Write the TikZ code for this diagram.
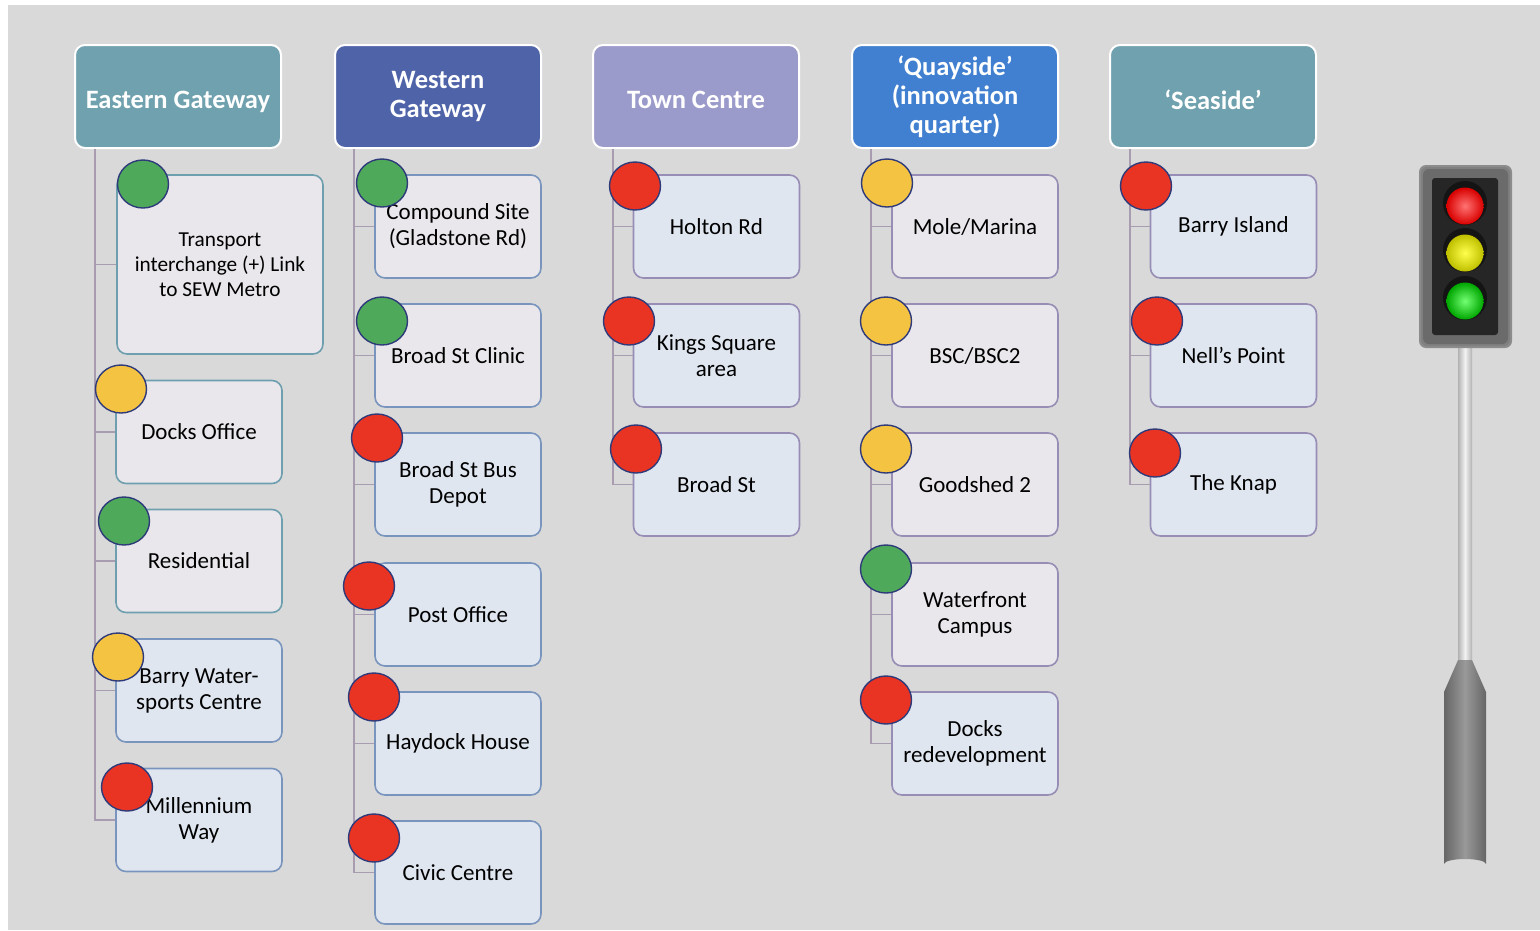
\documentclass[tikz,border=0pt]{standalone}
\usepackage{fontspec}
\usetikzlibrary{shapes.geometric,calc}
\newfontfamily\calfont{Carlito}
\newcommand\bxfont{\calfont\fontsize{23}{26}\selectfont}
\newcommand\smfont{\calfont\fontsize{21.3}{25}\selectfont}
\newcommand\hdfont{\calfont\bfseries\fontsize{26.5}{29}\selectfont}
\newcommand\lowered[1]{\raisebox{-3pt}[\height][0pt]{#1}}

\definecolor{bgray}{HTML}{D9D9D9}
\definecolor{teal}{HTML}{6FA1AE}
\definecolor{wblue}{HTML}{4F63A8}
\definecolor{lav}{HTML}{9B9BCB}
\definecolor{qblue}{HTML}{4180D0}
\definecolor{treeline}{HTML}{A79CB0}
\definecolor{eline}{HTML}{6E9FAF}
\definecolor{wline}{HTML}{7A95BD}
\definecolor{pline}{HTML}{978DB5}
\definecolor{gfill}{HTML}{E9E7EB}
\definecolor{bfill}{HTML}{DFE6F0}
\definecolor{dgreen}{HTML}{4EAA5A}
\definecolor{dyellow}{HTML}{F5C342}
\definecolor{dred}{HTML}{E93323}
\definecolor{dotline}{HTML}{2E3A7A}

\tikzset{
  header/.style={draw=white, line width=2pt, rounded corners=10pt,
    minimum width=206pt, minimum height=103pt, align=center,
    text=white, font=\hdfont, inner sep=2pt},
  box/.style={line width=1.6pt, rounded corners=10pt,
    minimum width=166pt, minimum height=103pt, align=center,
    text=black, font=\bxfont, inner sep=2pt},
  tree/.style={draw=treeline, line width=1.8pt},
  dot/.style={ellipse, draw=dotline, line width=1.4pt,
    minimum width=51pt, minimum height=48pt, inner sep=0pt},
}

\begin{document}
\begin{tikzpicture}[x=1pt,y=-1pt]
\useasboundingbox (0,0) rectangle (1540,930);
\fill[white] (0,0) rectangle (1540,930);
\fill[bgray] (8,5) rectangle (1540,930);

% column headers
\node[header, fill=teal]  (eh) at (178,96.5) {\lowered{Eastern Gateway}};
\node[header, fill=wblue] (wh) at (438,96.5) {Western\\Gateway};
\node[header, fill=lav]   (th) at (696,96.5) {\lowered{Town Centre}};
\node[header, fill=qblue] (qh) at (955,96.5) {‘Quayside’\\(innovation\\quarter)};
\node[header, fill=teal]  (sh) at (1213,96.5) {\lowered{‘Seaside’}};

% trunk start points of each column
\coordinate (et) at ($(eh.south west)+(21,0)$);
\coordinate (wt) at ($(wh.south west)+(20,0)$);
\coordinate (tt) at ($(th.south west)+(21,0)$);
\coordinate (qt) at ($(qh.south west)+(20,0)$);
\coordinate (st) at ($(sh.south west)+(21,0)$);

% Eastern Gateway
\node[box, draw=eline, fill=gfill, minimum width=206pt, minimum height=179pt, font=\smfont] (e1) at (220,264.5) {Transport\\interchange (+) Link\\to SEW Metro};
\node[box, draw=eline, fill=gfill] (e2) at (199,432) {Docks Office};
\node[box, draw=eline, fill=gfill] (e3) at (199,561) {Residential};
\node[box, draw=wline, fill=bfill] (e4) at (199,690.5) {Barry Water-\\sports Centre};
\node[box, draw=wline, fill=bfill] (e5) at (199,820) {Millennium\\Way};

% Western Gateway
\node[box, draw=wline, fill=gfill] (w1) at (458,226.5) {Compound Site\\(Gladstone Rd)};
\node[box, draw=wline, fill=gfill] (w2) at (458,355.5) {Broad St Clinic};
\node[box, draw=wline, fill=bfill] (w3) at (458,484.5) {Broad St Bus\\Depot};
\node[box, draw=wline, fill=bfill] (w4) at (458,614.5) {Post Office};
\node[box, draw=wline, fill=bfill] (w5) at (458,743.5) {Haydock House};
\node[box, draw=wline, fill=bfill] (w6) at (458,872.5) {Civic Centre};

% Town Centre
\node[box, draw=pline, fill=bfill] (t1) at (716.5,226.5) {Holton Rd};
\node[box, draw=pline, fill=bfill] (t2) at (716.5,355.5) {Kings Square\\area};
\node[box, draw=pline, fill=bfill] (t3) at (716.5,484.5) {Broad St};

% Quayside
\node[box, draw=pline, fill=gfill] (q1) at (975,226.5) {Mole/Marina};
\node[box, draw=pline, fill=gfill] (q2) at (975,355.5) {BSC/BSC2};
\node[box, draw=pline, fill=gfill] (q3) at (975,484.5) {Goodshed 2};
\node[box, draw=pline, fill=gfill] (q4) at (975,614.5) {Waterfront\\Campus};
\node[box, draw=pline, fill=bfill] (q5) at (975,743.5) {Docks\\redevelopment};

% Seaside
\node[box, draw=pline, fill=bfill] (s1) at (1233.5,226.5) {Barry Island};
\node[box, draw=pline, fill=bfill] (s2) at (1233.5,355.5) {Nell’s Point};
\node[box, draw=pline, fill=bfill] (s3) at (1233.5,484.5) {The Knap};

% tree connectors
\foreach \t/\b in {et/e1,et/e2,et/e3,et/e4,et/e5,
                   wt/w1,wt/w2,wt/w3,wt/w4,wt/w5,wt/w6,
                   tt/t1,tt/t2,tt/t3,
                   qt/q1,qt/q2,qt/q3,qt/q4,qt/q5,
                   st/s1,st/s2,st/s3}
  \draw[tree] (\t) |- (\b.west);

% status dots
\node[dot, fill=dgreen]  (e1d) at (143,184) {};
\node[dot, fill=dyellow] (e2d) at (121,389) {};
\node[dot, fill=dgreen]  (e3d) at (124,521) {};
\node[dot, fill=dyellow] (e4d) at (118,657) {};
\node[dot, fill=dred]    (e5d) at (127,787) {};

\node[dot, fill=dgreen]  (w1d) at (382,183) {};
\node[dot, fill=dgreen]  (w2d) at (382,321) {};
\node[dot, fill=dred]    (w3d) at (377,438) {};
\node[dot, fill=dred]    (w4d) at (369,586) {};
\node[dot, fill=dred]    (w5d) at (374,697) {};
\node[dot, fill=dred]    (w6d) at (374,838) {};

\node[dot, fill=dred]    (t1d) at (635,186) {};
\node[dot, fill=dred]    (t2d) at (629,321) {};
\node[dot, fill=dred]    (t3d) at (636,449) {};

\node[dot, fill=dyellow] (q1d) at (887,183) {};
\node[dot, fill=dyellow] (q2d) at (886,321) {};
\node[dot, fill=dyellow] (q3d) at (886,449) {};
\node[dot, fill=dgreen]  (q4d) at (886,569) {};
\node[dot, fill=dred]    (q5d) at (886,700) {};

\node[dot, fill=dred]    (s1d) at (1146,186) {};
\node[dot, fill=dred]    (s2d) at (1157,321) {};
\node[dot, fill=dred]    (s3d) at (1155,453) {};

% traffic light: pole and base
\shade[left color=gray!60, right color=gray!60, middle color=gray!10]
  (1458,340) rectangle (1472,662);
\shade[left color=black!60, right color=black!60, middle color=black!40]
  (1458,660) -- (1472,660) -- (1486,692) -- (1486,864)
  arc[start angle=0, end angle=-180, x radius=21, y radius=5]
  -- (1444,692) -- cycle;
% traffic light: housing
\fill[black!45, rounded corners=7pt] (1419,165) rectangle (1512,348);
\fill[black!50, rounded corners=6pt] (1421,167) rectangle (1510,346);
\fill[black!58, rounded corners=6pt] (1423,169) rectangle (1508,344);
\fill[black!85, rounded corners=3pt] (1432,178) rectangle (1498,335);
\foreach \yy/\cin/\cout in {206/red!55!white/red!85!black,
                             253/yellow!70!white/yellow!75!black,
                             301/green!55!white/green!65!black} {
  \fill[black!92] (1465,\yy-3) circle[radius=22];
  \shade[inner color=\cin, outer color=\cout] (1465,\yy) circle[radius=18.5];
}
\end{tikzpicture}
\end{document}
